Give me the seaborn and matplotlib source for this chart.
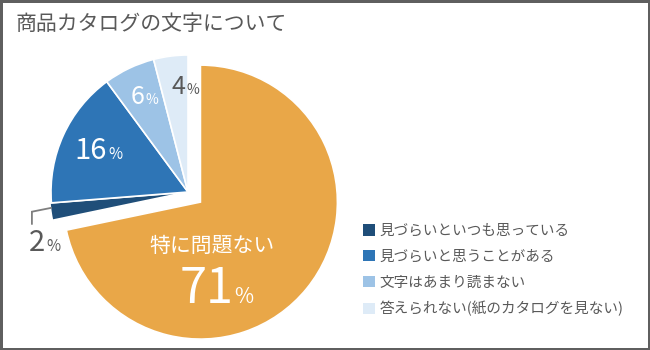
import matplotlib
matplotlib.use("Agg")
import matplotlib.pyplot as plt
from matplotlib.patches import Patch
import numpy as np
import seaborn as sns

# ---- data -------------------------------------------------------------
title = "商品カタログの文字について"
categories = [
    "特に問題ない",
    "見づらいといつも思っている",
    "見づらいと思うことがある",
    "文字はあまり読まない",
    "答えられない(紙のカタログを見ない)",
]
shares = [71, 2, 16, 6, 4]
colors = ["#E9A748", "#1F4E79", "#2E75B6", "#9DC3E6", "#DEEBF7"]

# ---- style ------------------------------------------------------------
sns.set_theme(style="white")
plt.rcParams["font.family"] = ["Noto Sans CJK JP", "DejaVu Sans"]
TEXT_GRAY = "#595959"

W, H = 650, 350
fig = plt.figure(figsize=(W / 100, H / 100), dpi=100,
                 facecolor="white", edgecolor="#5f5f5f", linewidth=2.5)
ax = fig.add_axes([0, 0, 1, 1])

center = (188, H - 192)
radius = 137
explode = [16, 1.5, 0, 0, 0]

wedges, _ = ax.pie(
    shares, colors=colors, startangle=90, counterclock=False,
    center=center, radius=radius, explode=explode, frame=True,
    wedgeprops=dict(edgecolor="white", linewidth=1.2),
)
ax.set_xlim(0, W)
ax.set_ylim(0, H)
ax.set_aspect("equal")
ax.axis("off")


def wedge_point(w, frac):
    ang = np.deg2rad((w.theta1 + w.theta2) / 2)
    cx, cy = w.center
    return cx + frac * w.r * np.cos(ang), cy + frac * w.r * np.sin(ang)


# label layout per slice: radius fraction, pixel nudge, digit size, % size, color
label_style = [
    (0.60, (-31, -49), 35, 15, "white"),
    (1.00, (-6, -39), 21, 11, TEXT_GRAY),
    (0.65, (0, -4), 21, 11, "white"),
    (0.72, (-1, -1), 18, 10, "white"),
    (0.72, (10, 0), 18, 10, TEXT_GRAY),
]

for w, val, (frac, (dx, dy), big, small, col) in zip(wedges, shares, label_style):
    x, y = wedge_point(w, frac)
    x, y = x + dx, y + dy
    ax.text(x, y, f"{val}", ha="right", va="baseline",
            fontsize=big, color=col)
    ax.text(x + 1, y, "%", ha="left", va="baseline",
            fontsize=small, color=col)

# category name inside the large slice
mx, my = wedges[0].center
ax.text(mx + 12, my - 44, categories[0], ha="center", va="center",
        fontsize=15, color="white")

# leader line for the thin slice
sx, sy = wedge_point(wedges[1], 1.0)
ax.plot([sx + 1, sx - 19, sx - 19], [sy + 4, sy, sy - 13],
        color="#7f7f7f", linewidth=1.3, solid_joinstyle="miter",
        solid_capstyle="butt", clip_on=False)

# title
fig.text(16 / W, 1 - 24 / H, title, ha="left", va="center",
         fontsize=15, color=TEXT_GRAY)

# legend for the blue slices
handles = [Patch(facecolor=c, edgecolor="none") for c in colors[1:]]
leg = ax.legend(
    handles, categories[1:], loc="upper left",
    bbox_to_anchor=(363, H - 224), bbox_transform=ax.transData,
    frameon=False, borderpad=0, borderaxespad=0,
    fontsize=10.5, handlelength=0.82, handleheight=0.82,
    handletextpad=0.3, labelspacing=0.8,
)
for t in leg.get_texts():
    t.set_color(TEXT_GRAY)

fig.savefig("out.png", dpi=100)
